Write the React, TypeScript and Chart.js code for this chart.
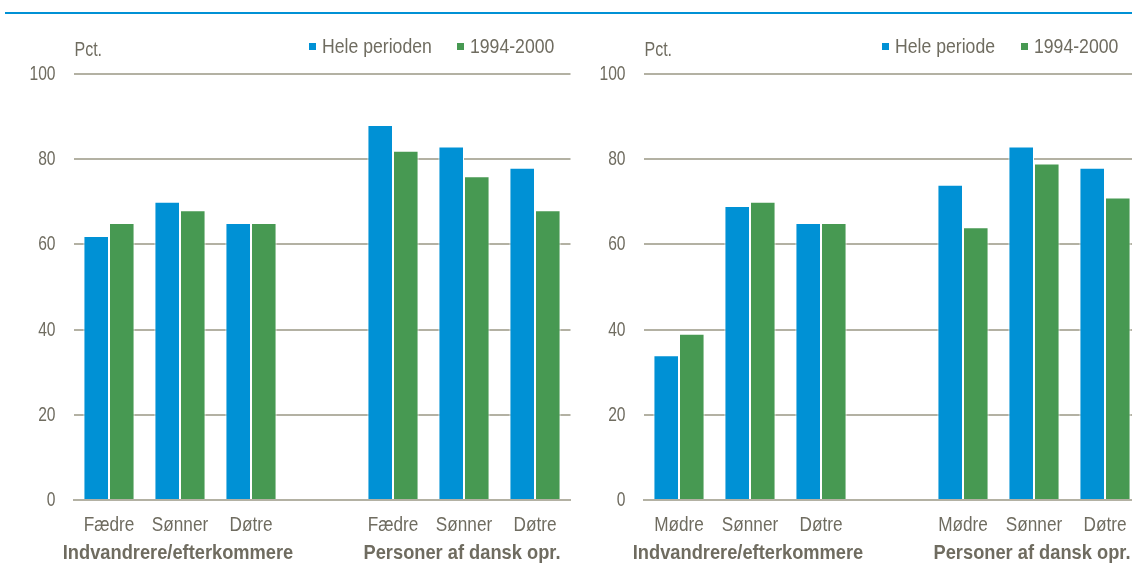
import React, { useEffect, useRef } from "react";
import { Chart, registerables } from "chart.js";

Chart.register(...registerables);

// ---------- data ----------
const leftCategories = ["Fædre", "Sønner", "Døtre", "", "Fædre", "Sønner", "Døtre"];
const leftWhole = [62, 70, 65, null, 88, 83, 78];
const left9400 = [65, 68, 65, null, 82, 76, 68];
const leftLegend = ["Hele perioden", "1994-2000"];

const rightCategories = ["Mødre", "Sønner", "Døtre", "", "Mødre", "Sønner", "Døtre"];
const rightWhole = [34, 69, 65, null, 74, 83, 78];
const right9400 = [39, 70, 65, null, 64, 79, 71];
const rightLegend = ["Hele periode", "1994-2000"];

const groupLabels = ["Indvandrere/efterkommere", "Personer af dansk opr."];
const groupCenterIndex = [1, 5];
const yTicks = [0, 20, 40, 60, 80, 100];
const unitLabel = "Pct.";

// ---------- style ----------
const BLUE = "#0091D5";
const GREEN = "#479952";
const GRID = "#B3B1A3";
const TEXT = "#6F6C60";
const FONT = '"Liberation Sans Narrow", "Arial Narrow", "Liberation Sans", Arial, sans-serif';

function drawText(
  ctx: CanvasRenderingContext2D,
  text: string,
  x: number,
  y: number,
  size: number,
  scaleX: number,
  align: CanvasTextAlign,
  bold = false
) {
  ctx.save();
  ctx.font = `${bold ? "bold " : ""}${size}px ${FONT}`;
  ctx.fillStyle = TEXT;
  ctx.textAlign = align;
  ctx.textBaseline = "middle";
  ctx.translate(x, y);
  ctx.scale(scaleX, 1);
  ctx.fillText(text, 0, 0);
  ctx.restore();
}

type PanelProps = {
  categories: string[];
  whole: (number | null)[];
  recent: (number | null)[];
  legend: string[];
  left: number;
  padRight: number;
  axisWidth: number;
  legendX: [number, number];
};

function Panel(p: PanelProps) {
  const ref = useRef<HTMLCanvasElement | null>(null);
  useEffect(() => {
    if (!ref.current) return;
    const overlay = {
      id: "overlay",
      afterDraw(chart: any) {
        const ctx: CanvasRenderingContext2D = chart.ctx;
        const area = chart.chartArea;
        const xs = chart.scales.x;
        const ys = chart.scales.y;
        // y tick labels
        yTicks.forEach((v) => {
          drawText(ctx, String(v), area.left - 18, ys.getPixelForValue(v) + 0.5, 20, 0.78, "right");
        });
        // category labels
        p.categories.forEach((c, i) => {
          if (c) drawText(ctx, c, xs.getPixelForValue(i), 525, 20, 0.86, "center");
        });
        // group labels
        groupLabels.forEach((g, i) => {
          drawText(ctx, g, xs.getPixelForValue(groupCenterIndex[i]) - 2, 553, 21, 0.87, "center", true);
        });
        // unit label
        drawText(ctx, unitLabel, area.left + 1, 50, 20, 0.8, "left");
        // legend
        const cols = [BLUE, GREEN];
        p.legend.forEach((t, i) => {
          const x = p.legendX[i];
          ctx.save();
          ctx.fillStyle = cols[i];
          ctx.fillRect(x, 43, 7, 7);
          ctx.restore();
          drawText(ctx, t, x + 13, 47, 21, 0.84, "left");
        });
      },
    };
    const chart = new Chart(ref.current, {
      type: "bar",
      data: {
        labels: p.categories,
        datasets: [
          {
            label: p.legend[0],
            data: p.whole,
            backgroundColor: BLUE,
            borderColor: "#ffffff",
            borderWidth: 1,
          },
          {
            label: p.legend[1],
            data: p.recent,
            backgroundColor: GREEN,
            borderColor: "#ffffff",
            borderWidth: 1,
          },
        ],
      },
      options: {
        animation: false,
        responsive: false,
        maintainAspectRatio: false,
        layout: { padding: { left: 0, right: p.padRight, top: 74, bottom: 0 } },
        plugins: { legend: { display: false }, tooltip: { enabled: false } },
        datasets: { bar: { categoryPercentage: 0.72, barPercentage: 1 } },
        scales: {
          x: {
            grid: { display: false, drawTicks: false },
            border: { display: true, color: GRID, width: 2 },
            ticks: { display: false },
            afterFit: (s: any) => {
              s.height = 73;
            },
          },
          y: {
            min: 0,
            max: 100,
            afterBuildTicks: (s: any) => {
              s.ticks = yTicks.map((v) => ({ value: v }));
            },
            grid: { color: GRID, lineWidth: 2, drawTicks: false },
            border: { display: false },
            ticks: { display: false },
            afterFit: (s: any) => {
              s.width = p.axisWidth;
            },
          },
        },
      },
      plugins: [overlay],
    } as any);
    return () => chart.destroy();
  }, []);
  return (
    <canvas
      ref={ref}
      width={580}
      height={573}
      style={{ position: "absolute", left: p.left, top: 0, width: 580, height: 573 }}
    />
  );
}

export default function App() {
  return (
    <div
      style={{
        position: "fixed",
        left: 0,
        top: 0,
        width: 1132,
        height: 573,
        overflow: "hidden",
        background: "#ffffff",
      }}
    >
      <div style={{ position: "absolute", left: 5, top: 12, width: 1127, height: 2, background: "#0091D5" }} />
      <Panel
        categories={leftCategories}
        whole={leftWhole}
        recent={left9400}
        legend={leftLegend}
        left={0}
        padRight={9.5}
        axisWidth={73.5}
        legendX={[309, 457]}
      />
      <Panel
        categories={rightCategories}
        whole={rightWhole}
        recent={right9400}
        legend={rightLegend}
        left={580}
        padRight={19.5}
        axisWidth={63.5}
        legendX={[302, 441]}
      />
    </div>
  );
}
